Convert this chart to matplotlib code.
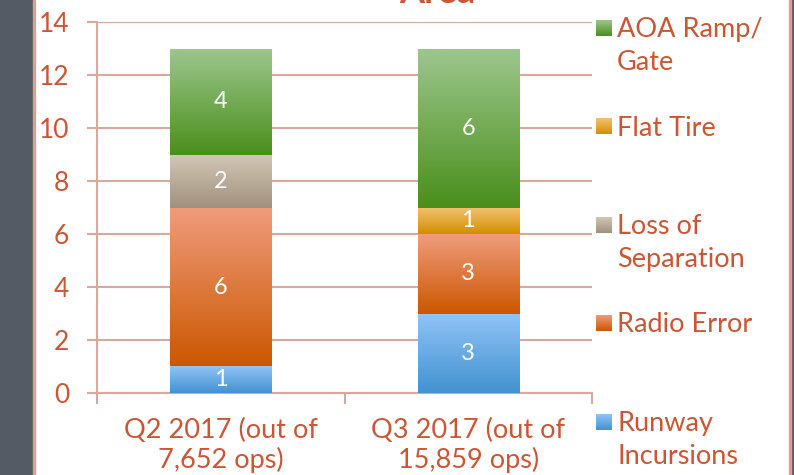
import matplotlib
matplotlib.use("Agg")
import matplotlib.pyplot as plt
import matplotlib.patheffects as pe
import numpy as np
from matplotlib.colors import to_rgb

plt.rcParams['font.family'] = ['Lato', 'DejaVu Sans']

# data
categories = ['Q2 2017 (out of\n7,652 ops)', 'Q3 2017 (out of\n15,859 ops)']
series = ['Runway\nIncursions', 'Radio Error', 'Loss of\nSeparation', 'Flat Tire', 'AOA Ramp/\nGate']
runway = [1, 3]
radio = [6, 3]
loss_sep = [2, 0]
flat_tire = [0, 1]
aoa = [4, 6]
values = [runway, radio, loss_sep, flat_tire, aoa]

# gradient colours (top, bottom) for each series
grad = [('#90C4F6', '#4392D0'),
        ('#F09C7C', '#CB5700'),
        ('#D2C6B4', '#9F917D'),
        ('#F2C272', '#D38F00'),
        ('#9CC68C', '#4A8F1C')]

txt_col = '#CC5533'
grid_col = '#D9A9A0'

W, H = 794, 475
fig = plt.figure(figsize=(W / 100, H / 100), dpi=100)

# background decorations (dark strip left / right)
bg = fig.add_axes([0, 0, 1, 1], zorder=-5)
bg.set_xlim(0, W)
bg.set_ylim(H, 0)
bg.axis('off')
bg.add_patch(plt.Rectangle((0, 0), 33, H, color='#545B64'))
bg.add_patch(plt.Rectangle((33, 0), 2, H, color='#D9A098'))
bg.add_patch(plt.Rectangle((791, 0), 3, H, color='#545B64'))
bg.add_patch(plt.Rectangle((789, 0), 2, H, color='#D9A098'))

ax = fig.add_axes([97 / W, (H - 393) / H, (592 - 97) / W, (393 - 22) / H])
ax.set_xlim(-0.5, 1.5)
ax.set_ylim(0, 14)

x = np.arange(len(categories))
width = 0.41


def gradient(top, bottom, n=100):
    t = np.linspace(0, 1, n)[:, None]
    c0 = np.array(to_rgb(top))
    c1 = np.array(to_rgb(bottom))
    return (c0 * (1 - t) + c1 * t)[:, None, :]


bottoms = np.zeros(len(categories))
totals = np.sum(values, axis=0)
# shadow behind whole stacks
ax.bar(x, totals, width, color='white', zorder=2,
       path_effects=[pe.SimplePatchShadow(offset=(0, -2), shadow_rgbFace='#888888', alpha=0.35),
                     pe.Normal()])
for vals, (ct, cb) in zip(values, grad):
    for i, v in enumerate(vals):
        if v == 0:
            continue
        y0 = bottoms[i]
        ax.imshow(gradient(ct, cb), extent=[x[i] - width / 2, x[i] + width / 2, y0, y0 + v],
                  aspect='auto', zorder=3, interpolation='bilinear')
        ax.text(x[i], y0 + v / 2, str(v), ha='center', va='center', color='white',
                fontsize=17, zorder=4)
    bottoms += np.array(vals)
ax.set_xlim(-0.5, 1.5)
ax.set_ylim(0, 14)

# axes styling
for s in ['top', 'right', 'bottom']:
    ax.spines[s].set_visible(False)
ax.spines['left'].set_color(grid_col)
ax.spines['left'].set_linewidth(1.5)
ax.set_yticks(range(0, 15, 2))
ax.yaxis.grid(True, color=grid_col, linewidth=1.5)
ax.set_axisbelow(True)
ax.tick_params(axis='y', colors=grid_col, length=7, width=1.5, labelcolor=txt_col,
               labelsize=19, pad=13)
ax.set_xticks(x)
ax.set_xticklabels(categories, linespacing=1.2)
ax.set_xticks([-0.5, 0.5, 1.5], minor=True)
ax.tick_params(axis='x', which='major', length=0, labelcolor=txt_col, labelsize=19.5, pad=18)
ax.tick_params(axis='x', which='minor', length=8, width=1.5, color=grid_col)
ax.axhline(0, color=grid_col, linewidth=1.5, xmin=-7 / 495, clip_on=False, zorder=1)

# legend drawn by hand
leg = fig.add_axes([0, 0, 1, 1], zorder=5)
leg.set_xlim(0, W)
leg.set_ylim(H, 0)
leg.axis('off')
for k, (name, (ct, cb)) in enumerate(zip(series[::-1], grad[::-1])):
    yc = 28 + 98.5 * k
    leg.imshow(gradient(ct, cb), extent=[596, 612, yc + 8, yc - 8], aspect='auto',
               interpolation='bilinear')
    leg.text(617, yc - 11, name, color=txt_col, fontsize=19.5,
             va='top', ha='left', linespacing=1.4)
leg.set_xlim(0, W)
leg.set_ylim(H, 0)

# cut-off title above the chart
fig.text(437 / W, 1 - 3 / H, 'Area', color=txt_col, fontsize=26, fontweight='bold',
         ha='center', va='baseline')

fig.savefig('out.png', dpi=100)
